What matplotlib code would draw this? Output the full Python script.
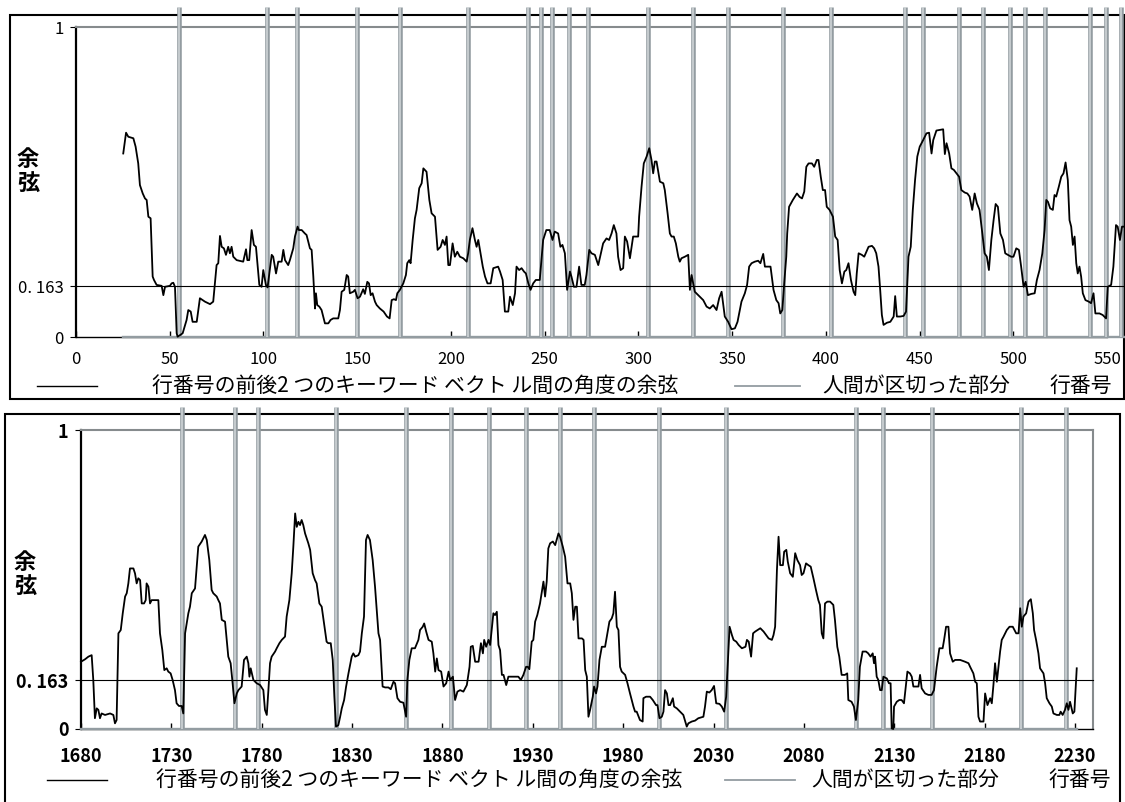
import matplotlib
matplotlib.use("Agg")
import matplotlib.pyplot as plt
from matplotlib.patches import Rectangle
from matplotlib.lines import Line2D

plt.rcParams["font.family"] = ["Noto Sans CJK JP", "DejaVu Sans"]

W, H = 1125, 802
THRESHOLD = 0.163
Y_TICKS = [0, THRESHOLD, 1]
Y_TICK_LABELS = ["0", "0. 163", "1"]
CURVE_LABEL = "行番号の前後2 つのキーワード ベクト ル間の角度の余弦"
HUMAN_LABEL = "人間が区切った部分"
X_LABEL = "行番号"
Y_LABEL = "余\n弦"

# --- upper panel: lines 0-550 ---
top_x = [
    25.2, 26.7, 27.9, 30.6, 31.8, 33.2, 34.1, 35.6, 36.8, 37.7,
    38.6, 39.8, 40.9, 41.6, 43.0, 45.7, 46.6, 47.5, 50.1, 51.0,
    51.9, 52.8, 53.7, 54.2, 55.5, 56.9, 59.0, 59.9, 61.2, 62.2,
    64.4, 66.1, 68.8, 71.5, 73.2, 75.0, 75.9, 76.8, 77.7, 78.9,
    80.0, 81.2, 82.1, 83.0, 83.9, 85.7, 89.2, 90.7, 91.4, 92.4,
    93.7, 94.9, 96.0, 97.8, 99.0, 99.9, 101.3, 102.2, 104.4, 105.2,
    106.7, 107.9, 109.7, 110.6, 111.5, 113.2, 114.1, 115.9, 116.8, 118.2,
    118.9, 120.4, 122.1, 123.0, 123.9, 124.8, 125.7, 126.6, 127.5, 128.0,
    128.7, 129.8, 131.0, 132.8, 134.6, 135.8, 137.2, 139.9, 140.8, 141.7,
    143.1, 144.4, 145.2, 146.1, 147.9, 148.8, 150.2, 151.5, 153.2, 154.1,
    155.4, 156.3, 157.2, 158.2, 159.5, 160.4, 162.1,
    164.1, 165.9, 167.3, 168.4, 169.6, 170.7, 171.4, 172.8, 174.6, 176.0,
    176.7, 177.8, 178.5, 179.6, 180.8, 181.7, 183.1, 184.4, 185.3, 187.0,
    188.5, 189.7, 191.5, 192.9, 194.5, 195.6, 196.8, 197.7, 198.6, 199.5,
    200.9, 202.1, 203.4, 204.8, 206.6, 208.4, 209.2, 210.1, 211.5, 212.8,
    213.7, 214.6, 215.8, 217.0, 218.2, 219.5, 221.2, 222.6, 225.2, 226.2,
    227.6, 228.8, 230.6, 231.5, 233.0, 234.2, 235.0, 236.4, 237.7, 239.0,
    240.0, 241.3, 242.5, 243.9, 245.3, 247.4, 248.3, 249.2, 250.9, 252.7,
    254.2, 255.4, 257.2, 258.4, 259.5, 260.8, 262.0, 263.5, 264.3, 265.6,
    267.0, 268.4, 269.6, 271.4, 272.3, 273.8, 275.0, 276.8, 278.6, 279.8,
    281.2, 283.0, 284.4, 285.7, 286.9, 288.3, 289.2, 290.5, 291.9, 292.8,
    294.0, 295.5, 297.2, 299.9, 300.4, 301.7, 302.9, 304.4, 305.8, 307.0,
    307.9, 308.8, 309.7, 311.5, 313.3, 314.1, 315.6, 316.8, 317.7, 318.9,
    320.0, 321.3, 322.1, 323.0, 324.8, 326.6, 327.5, 328.4, 330.1, 332.8,
    334.6, 336.4, 338.1, 339.9, 341.7, 343.1, 344.4, 345.2, 346.1, 347.9,
    349.7, 351.5, 352.9,
    355.0, 356.8, 358.0, 359.1, 360.4, 362.1, 363.9, 365.1, 366.6, 367.5,
    369.3, 370.5, 372.1, 373.6, 374.8, 375.7, 376.8, 377.8, 378.9, 379.4,
    380.4, 382.4, 384.6, 386.0, 387.3, 388.5, 389.6, 390.8, 392.6, 393.8,
    395.2, 396.1, 397.3, 398.4, 399.6, 400.5, 402.0, 403.8, 405.0, 406.3,
    407.4, 408.6, 409.9, 410.9, 412.1, 413.4, 414.8, 415.7, 416.5, 417.5,
    419.2, 420.5, 422.8, 424.6, 425.8, 426.9, 428.1, 429.0, 429.9, 430.8,
    432.6, 434.4, 436.2, 437.0, 437.9, 439.7, 441.5, 442.8, 444.1, 445.3,
    446.4, 447.6, 448.8, 450.1, 451.9, 453.7, 455.1, 456.4, 457.3, 459.0,
    460.8, 462.6, 463.5, 464.4, 465.8, 467.0, 468.3, 469.7, 471.1, 472.3,
    474.1, 475.5, 476.7, 478.1, 479.4, 480.6, 482.0, 483.5, 484.7, 485.9,
    487.0, 488.3, 489.5, 490.6, 491.8, 493.1, 494.5, 495.7, 497.1, 498.9,
    500.1, 501.6, 503.0, 504.2, 505.5, 506.6, 507.8, 509.6, 511.4, 512.6,
    514.0, 515.5, 516.7, 517.6, 518.5, 519.7, 521.1, 522.0, 522.9, 524.3,
    525.6, 526.8, 527.9, 529.1, 530.0, 530.9, 531.8, 532.7, 533.6, 534.4,
    535.3, 536.2, 537.1, 538.5, 540.3, 541.5, 542.8, 543.8, 546.0, 547.7,
    549.5, 550.4, 552.2, 553.4, 554.8, 555.7, 556.9, 558.0, 559.2,
]
top_cos = [
    0.592, 0.659, 0.646, 0.641, 0.614, 0.560, 0.490, 0.463, 0.447, 0.442,
    0.388, 0.383, 0.195, 0.184, 0.168, 0.165, 0.135, 0.162, 0.165, 0.173,
    0.175, 0.162, 0.012, 0.001, 0.006, 0.012, 0.055, 0.087, 0.082, 0.049,
    0.049, 0.125, 0.114, 0.106, 0.114, 0.232, 0.238, 0.326, 0.291, 0.286,
    0.265, 0.291, 0.270, 0.291, 0.259, 0.248, 0.243, 0.283, 0.248, 0.248,
    0.345, 0.297, 0.291, 0.168, 0.162, 0.216, 0.168, 0.160, 0.265, 0.259,
    0.205, 0.243, 0.243, 0.281, 0.248, 0.232, 0.248, 0.286, 0.324, 0.356,
    0.345, 0.345, 0.334, 0.329, 0.308, 0.286, 0.281, 0.195, 0.092, 0.141,
    0.103, 0.098, 0.087, 0.044, 0.044, 0.055, 0.060, 0.060, 0.087, 0.146,
    0.152, 0.200, 0.195, 0.141, 0.146, 0.152, 0.125, 0.130, 0.154, 0.139,
    0.178, 0.173, 0.135, 0.141, 0.114, 0.103, 0.092,
    0.082, 0.066, 0.060, 0.119, 0.122, 0.119, 0.141, 0.152, 0.173, 0.200,
    0.238, 0.248, 0.238, 0.313, 0.383, 0.410, 0.480, 0.496, 0.544, 0.533,
    0.442, 0.399, 0.388, 0.281, 0.291, 0.313, 0.297, 0.324, 0.232, 0.232,
    0.302, 0.259, 0.275, 0.259, 0.254, 0.243, 0.270, 0.313, 0.351, 0.313,
    0.291, 0.313, 0.270, 0.227, 0.195, 0.173, 0.173, 0.222, 0.227, 0.211,
    0.184, 0.082, 0.082, 0.130, 0.103, 0.141, 0.227, 0.216, 0.222, 0.211,
    0.205, 0.173, 0.152, 0.173, 0.184, 0.184, 0.248, 0.313, 0.345, 0.345,
    0.313, 0.340, 0.334, 0.291, 0.297, 0.270, 0.152, 0.211, 0.195, 0.162,
    0.162, 0.227, 0.168, 0.168, 0.200, 0.281, 0.270, 0.265, 0.232, 0.265,
    0.302, 0.318, 0.313, 0.334, 0.361, 0.334, 0.259, 0.216, 0.222, 0.324,
    0.308, 0.254, 0.324, 0.324, 0.388, 0.485, 0.560, 0.582, 0.609, 0.571,
    0.528, 0.566, 0.566, 0.501, 0.496, 0.474, 0.399, 0.334, 0.324, 0.324,
    0.302, 0.259, 0.243, 0.254, 0.259, 0.265, 0.152, 0.200, 0.146, 0.130,
    0.119, 0.098, 0.092, 0.103, 0.087, 0.125, 0.146, 0.109, 0.066, 0.049,
    0.025, 0.028, 0.049,
    0.114, 0.141, 0.168, 0.227, 0.238, 0.243, 0.246, 0.238, 0.268, 0.227,
    0.227, 0.227, 0.152, 0.119, 0.109, 0.076, 0.087, 0.173, 0.259, 0.334,
    0.420, 0.442, 0.463, 0.452, 0.447, 0.469, 0.549, 0.560, 0.560, 0.549,
    0.571, 0.571, 0.517, 0.474, 0.474, 0.420, 0.410, 0.388, 0.324, 0.313,
    0.216, 0.173, 0.211, 0.216, 0.238, 0.184, 0.146, 0.135, 0.205, 0.270,
    0.265, 0.259, 0.291, 0.294, 0.286, 0.270, 0.227, 0.152, 0.071, 0.039,
    0.046, 0.049, 0.066, 0.132, 0.066, 0.066, 0.068, 0.082, 0.259, 0.291,
    0.410, 0.506, 0.582, 0.614, 0.635, 0.657, 0.659, 0.592, 0.635, 0.666,
    0.668, 0.670, 0.590, 0.625, 0.592, 0.544, 0.539, 0.528, 0.517, 0.474,
    0.466, 0.463, 0.453, 0.410, 0.463, 0.431, 0.410, 0.334, 0.270, 0.259,
    0.216, 0.313, 0.377, 0.429, 0.420, 0.334, 0.313, 0.270, 0.265, 0.259,
    0.259, 0.286, 0.281, 0.227, 0.162, 0.178, 0.135, 0.139, 0.141, 0.184,
    0.216, 0.270, 0.345, 0.442, 0.436, 0.415, 0.410, 0.458, 0.453, 0.485,
    0.517, 0.528, 0.563, 0.506, 0.377, 0.356, 0.297, 0.324, 0.238, 0.205,
    0.227, 0.195, 0.141, 0.119, 0.114, 0.109, 0.141, 0.076, 0.076, 0.071,
    0.060, 0.162, 0.168, 0.227, 0.361, 0.356, 0.313, 0.356, 0.356,
]
top_bounds = [55, 102, 118, 150, 173, 209, 241, 248, 254, 263, 273, 305, 329,
              348, 377, 403, 442, 452, 471, 484, 498, 506, 517, 541, 549.5, 557.5]
top_xticks = list(range(0, 551, 50))

# --- lower panel: lines 1680-2230 ---
bot_x = [
    1680.0, 1682.2, 1684.1, 1685.9, 1686.8, 1687.7, 1688.7, 1689.6, 1690.5, 1691.4,
    1693.3, 1696.1, 1697.9, 1698.8, 1699.7, 1700.7, 1702.0, 1703.1, 1704.4, 1705.3,
    1706.2, 1707.1, 1709.0, 1709.9, 1710.8, 1711.7, 1712.7, 1713.6, 1714.9, 1715.8,
    1716.3, 1717.3, 1718.2, 1719.1, 1720.4, 1721.9, 1722.8, 1723.7, 1725.0, 1726.1,
    1727.4, 1728.3, 1729.6, 1730.7, 1732.0, 1732.9, 1734.2, 1735.7, 1736.6, 1737.6,
    1739.4, 1740.3, 1741.3, 1743.1, 1744.9, 1746.8, 1748.6, 1749.6, 1751.0, 1752.3,
    1753.2, 1755.1, 1756.0, 1756.9, 1757.9, 1759.7, 1761.5, 1762.8, 1763.9, 1764.9,
    1766.2, 1767.1, 1768.9, 1770.2, 1771.7, 1772.6, 1773.2, 1773.9, 1775.4, 1777.2,
    1779.1, 1780.9, 1781.8, 1782.8, 1783.7, 1784.6, 1785.5, 1787.4, 1788.3, 1789.8,
    1791.1, 1792.9, 1793.8, 1795.3, 1796.6, 1797.5, 1798.5, 1799.4, 1800.3, 1801.2,
    1802.1, 1803.0, 1804.0, 1805.8, 1806.8, 1808.2, 1809.5, 1810.4, 1811.9, 1813.2,
    1815.0, 1815.9, 1816.8, 1818.2, 1819.3, 1820.2, 1821.1, 1822.4, 1823.4, 1824.3,
    1825.6, 1826.7, 1828.0, 1829.8, 1830.7, 1831.7, 1833.5, 1834.4, 1835.4, 1836.6,
    1837.7, 1838.6, 1839.9, 1841.4, 1842.7,
    1844.6, 1845.5, 1846.9, 1848.3, 1850.1, 1851.4, 1852.9, 1853.8, 1855.1, 1856.6,
    1858.4, 1859.9, 1860.6, 1861.7, 1863.0, 1864.8, 1866.7, 1867.6, 1869.1, 1869.9,
    1871.0, 1872.3, 1874.1, 1875.0, 1876.0, 1876.9, 1877.8, 1879.3, 1880.6, 1882.1,
    1883.4, 1884.3, 1885.8, 1887.0, 1888.3, 1889.8, 1891.6, 1893.5, 1895.0, 1895.7,
    1896.8, 1898.1, 1900.0, 1901.3, 1902.4, 1903.1, 1904.2, 1905.5, 1906.4, 1908.2,
    1909.1, 1910.1, 1911.0, 1911.9, 1912.9, 1913.8, 1915.3, 1916.5, 1919.3, 1922.0,
    1923.4, 1924.8, 1926.3, 1927.2, 1928.1, 1929.4, 1930.3, 1931.3, 1932.5, 1934.0,
    1934.9, 1935.9, 1936.8, 1937.7, 1938.6, 1939.6, 1941.1, 1942.4, 1944.2, 1945.1,
    1946.6, 1947.9, 1949.2, 1950.7, 1951.6, 1952.5, 1953.5, 1954.4, 1955.3, 1957.2,
    1958.1, 1959.0, 1959.9, 1960.8, 1961.7, 1963.2, 1963.9, 1965.0, 1965.8, 1966.9,
    1968.2, 1970.0, 1971.3, 1972.4, 1973.7, 1974.6, 1975.5, 1976.5, 1977.4, 1978.3,
    1979.2, 1981.1, 1982.4, 1983.8, 1985.7, 1986.6, 1987.5, 1989.3, 1990.8, 1991.2,
    1992.7, 1994.9, 1996.4, 1998.2, 1999.0, 2000.1, 2001.4, 2002.3, 2003.2, 2004.2,
    2005.1, 2006.0, 2007.5, 2008.2, 2009.7, 2011.5, 2013.3, 2015.2, 2016.1, 2018.0,
    2019.8, 2021.6, 2024.4, 2025.3, 2026.3, 2027.7, 2029.0, 2030.3, 2031.5, 2033.3,
    2034.6, 2035.9, 2037.0, 2037.8, 2038.9, 2040.2, 2041.1, 2042.6, 2043.9,
    2045.7, 2047.7, 2048.5, 2049.5, 2050.8, 2051.9, 2053.1, 2055.9, 2057.7, 2060.5,
    2062.3, 2063.2, 2064.1, 2065.1, 2066.0, 2066.9, 2068.4, 2069.1, 2070.3, 2071.1,
    2072.4, 2073.9, 2075.2, 2076.4, 2077.9, 2078.8, 2079.8, 2081.2, 2082.5, 2083.8,
    2085.3, 2086.7, 2088.0, 2088.9, 2089.9, 2090.8, 2091.7, 2093.0, 2094.5, 2096.3,
    2097.2, 2098.5, 2099.6, 2100.9, 2102.7, 2104.0, 2104.6, 2106.4, 2107.7, 2108.8,
    2110.1, 2111.0, 2112.5, 2114.4, 2115.6, 2116.9, 2118.1, 2118.8, 2119.4, 2120.3,
    2121.2, 2122.2, 2123.1, 2124.0, 2125.9, 2127.1, 2128.0, 2128.6, 2129.5, 2129.9,
    2131.4, 2132.8, 2134.1, 2135.4, 2136.5, 2137.3, 2138.7, 2139.7, 2140.6, 2142.1,
    2143.4, 2144.3, 2145.2, 2147.1, 2148.9, 2150.7, 2152.0, 2153.5, 2155.0, 2156.8,
    2157.6, 2158.7, 2160.0, 2160.9, 2162.4, 2163.7, 2166.5, 2169.2, 2171.1, 2172.0,
    2173.8, 2174.8, 2175.7, 2176.6, 2177.5, 2179.4, 2180.3, 2181.6, 2183.1, 2184.0,
    2184.9, 2185.8, 2186.8, 2187.7, 2188.6, 2189.5, 2190.5, 2192.3, 2193.8, 2195.6,
    2197.5, 2198.8, 2199.7, 2200.6, 2201.5, 2203.0, 2204.3, 2205.6, 2206.7, 2207.4,
    2208.5, 2209.8, 2210.7, 2212.6, 2213.5, 2214.4, 2215.9, 2217.2, 2218.1, 2220.0,
    2221.4, 2222.1, 2223.2, 2224.5, 2225.5, 2226.4, 2227.3, 2228.8, 2229.7, 2231.0,
]
bot_cos = [
    0.225, 0.233, 0.242, 0.247, 0.164, 0.036, 0.069, 0.064, 0.036, 0.052,
    0.047, 0.052, 0.047, 0.019, 0.030, 0.320, 0.331, 0.387, 0.443, 0.454,
    0.487, 0.537, 0.537, 0.520, 0.487, 0.504, 0.498, 0.420, 0.420, 0.431,
    0.487, 0.476, 0.420, 0.431, 0.431, 0.431, 0.431, 0.320, 0.264, 0.197,
    0.203, 0.192, 0.186, 0.164, 0.130, 0.086, 0.077, 0.077, 0.052, 0.320,
    0.387, 0.409, 0.454, 0.470, 0.610, 0.627, 0.649, 0.632, 0.565, 0.465,
    0.454, 0.443, 0.431, 0.420, 0.365, 0.359, 0.242, 0.220, 0.153, 0.086,
    0.119, 0.130, 0.142, 0.231, 0.242, 0.220, 0.175, 0.203, 0.164, 0.153,
    0.147, 0.130, 0.064, 0.047, 0.130, 0.220, 0.242, 0.259, 0.270, 0.287,
    0.298, 0.309, 0.376, 0.431, 0.521, 0.610, 0.721, 0.676, 0.693, 0.682,
    0.699, 0.682, 0.654, 0.621, 0.599, 0.521, 0.498, 0.487, 0.420, 0.409,
    0.331, 0.292, 0.287, 0.287, 0.231, 0.108, 0.008, 0.013, 0.041, 0.069,
    0.097, 0.142, 0.186, 0.242, 0.253, 0.242, 0.247, 0.259, 0.320, 0.376,
    0.632, 0.649, 0.632, 0.565, 0.476,
    0.320, 0.298, 0.142, 0.139, 0.139, 0.133, 0.158, 0.153, 0.103, 0.091,
    0.088, 0.041, 0.164, 0.231, 0.270, 0.270, 0.298, 0.331, 0.342, 0.353,
    0.326, 0.298, 0.292, 0.253, 0.192, 0.236, 0.197, 0.192, 0.142, 0.153,
    0.192, 0.164, 0.175, 0.097, 0.125, 0.130, 0.125, 0.147, 0.208, 0.275,
    0.278, 0.225, 0.225, 0.287, 0.253, 0.298, 0.275, 0.298, 0.281, 0.387,
    0.381, 0.392, 0.281, 0.264, 0.181, 0.181, 0.147, 0.175, 0.175, 0.175,
    0.164, 0.181, 0.208, 0.208, 0.200, 0.292, 0.298, 0.359, 0.381, 0.420,
    0.454, 0.493, 0.443, 0.493, 0.604, 0.621, 0.627, 0.615, 0.654, 0.643,
    0.610, 0.576, 0.487, 0.487, 0.454, 0.365, 0.409, 0.409, 0.303, 0.303,
    0.298, 0.197, 0.175, 0.041, 0.064, 0.108, 0.142, 0.119, 0.142, 0.231,
    0.275, 0.275, 0.320, 0.359, 0.370, 0.387, 0.459, 0.342, 0.331, 0.208,
    0.192, 0.181, 0.153, 0.119, 0.075, 0.058, 0.058, 0.030, 0.025, 0.103,
    0.108, 0.108, 0.097, 0.080, 0.080, 0.036, 0.041, 0.058, 0.130, 0.119,
    0.080, 0.080, 0.103, 0.075, 0.069, 0.058, 0.047, 0.008, 0.019, 0.025,
    0.028, 0.036, 0.041, 0.075, 0.125, 0.122, 0.130, 0.144, 0.086, 0.084,
    0.075, 0.058, 0.108, 0.208, 0.342, 0.314, 0.298, 0.292, 0.281,
    0.270, 0.275, 0.298, 0.292, 0.242, 0.320, 0.326, 0.337, 0.326, 0.303,
    0.298, 0.314, 0.342, 0.532, 0.643, 0.548, 0.548, 0.593, 0.599, 0.560,
    0.521, 0.509, 0.588, 0.565, 0.548, 0.515, 0.521, 0.554, 0.548, 0.543,
    0.504, 0.465, 0.431, 0.415, 0.320, 0.303, 0.420, 0.426, 0.426, 0.415,
    0.365, 0.275, 0.242, 0.181, 0.181, 0.186, 0.097, 0.091, 0.075, 0.030,
    0.097, 0.208, 0.259, 0.259, 0.253, 0.242, 0.253, 0.220, 0.242, 0.175,
    0.164, 0.130, 0.130, 0.175, 0.169, 0.153, 0.153, 0.002, 0.000, 0.075,
    0.091, 0.097, 0.097, 0.086, 0.147, 0.192, 0.186, 0.175, 0.142, 0.142,
    0.142, 0.181, 0.136, 0.119, 0.114, 0.114, 0.130, 0.208, 0.270, 0.270,
    0.298, 0.342, 0.342, 0.253, 0.225, 0.231, 0.231, 0.225, 0.220, 0.208,
    0.186, 0.158, 0.153, 0.041, 0.025, 0.025, 0.119, 0.080, 0.103, 0.086,
    0.147, 0.220, 0.158, 0.208, 0.259, 0.298, 0.309, 0.331, 0.342, 0.342,
    0.320, 0.320, 0.404, 0.342, 0.376, 0.387, 0.426, 0.434, 0.387, 0.331,
    0.298, 0.253, 0.203, 0.186, 0.153, 0.103, 0.086, 0.075, 0.052, 0.047,
    0.047, 0.058, 0.047, 0.064, 0.086, 0.064, 0.091, 0.052, 0.058, 0.203,
]
bot_bounds = [1736, 1765, 1778, 1821, 1860, 1885, 1906, 1926, 1945, 1964,
              2000, 2037, 2109, 2124, 2151, 2200, 2225]
bot_xticks = list(range(1680, 2231, 50))

GRAY = "#939ca1"
GRAY_CORE = "#d4d9db"
BORDER_GRAY = "#868b8d"


def fig_box(x0, y0, x1, y1):
    return [x0 / W, 1 - y1 / H, (x1 - x0) / W, (y1 - y0) / H]


def draw_panel(ax, xs, ys, bounds, xlim, xticks, pulse_top, thr_xmax, tick_size, tick_weight, tick_pad):
    ax.set_xlim(*xlim)
    ax.set_ylim(0, 1)
    # human segmentation: baseline at 0 plus a pulse per boundary
    ax.plot([xs[0], xs[-1]], [0, 0], color=GRAY, lw=1.7, clip_on=False, zorder=3)
    trans = ax.get_xaxis_transform()
    ax.vlines(bounds, 0, pulse_top, transform=trans, colors=GRAY, lw=3.3, clip_on=False, zorder=3)
    ax.vlines(bounds, 0, pulse_top, transform=trans, colors=GRAY_CORE, lw=1.1, clip_on=False, zorder=3)
    ax.axhline(THRESHOLD, xmin=0, xmax=thr_xmax, color="black", lw=0.8, clip_on=False, zorder=4)
    ax.plot(xs, ys, color="black", lw=1.3, clip_on=False, zorder=5)

    for side in ("top", "right"):
        ax.spines[side].set_color(BORDER_GRAY)
        ax.spines[side].set_linewidth(1.5)
    ax.spines["left"].set_linewidth(1.6)
    ax.spines["bottom"].set_linewidth(1.0)

    ax.set_xticks(xticks)
    ax.set_xticklabels([str(t) for t in xticks], fontsize=tick_size, fontweight=tick_weight)
    ax.tick_params(axis="x", direction="in", length=4, width=1, pad=tick_pad)
    ax.set_yticks(Y_TICKS)
    ax.set_yticklabels(Y_TICK_LABELS, fontsize=tick_size, fontweight=tick_weight)
    ax.tick_params(axis="y", direction="out", length=4, width=0.8, pad=5)


fig = plt.figure(figsize=(W / 100, H / 100), dpi=100)

ax_top = fig.add_axes(fig_box(76, 27, 1107, 337))
draw_panel(ax_top, top_x, top_cos, top_bounds, (0, 550), top_xticks,
           pulse_top=1.065, thr_xmax=(1124 - 76) / (1107 - 76),
           tick_size=12, tick_weight="normal", tick_pad=10)

ax_bot = fig.add_axes(fig_box(81, 430, 1093, 729))
draw_panel(ax_bot, bot_x, bot_cos, bot_bounds, (1680, 2240), bot_xticks,
           pulse_top=1.077, thr_xmax=1.0,
           tick_size=13, tick_weight="bold", tick_pad=13)

# outer frames around each chart
fig.add_artist(Rectangle((10 / W, 1 - 399 / H), 1114 / W, 384 / H, transform=fig.transFigure,
                         fill=False, ec="black", lw=1.5, zorder=0))
fig.add_artist(Rectangle((5 / W, 1 - 820 / H), 1115 / W, 406 / H, transform=fig.transFigure,
                         fill=False, ec="black", lw=1.5, zorder=0))

# y-axis titles
fig.text(28 / W, 1 - 172 / H, Y_LABEL, ha="center", va="center", fontsize=16,
         fontweight="bold", linespacing=1.1)
fig.text(25 / W, 1 - 575 / H, Y_LABEL, ha="center", va="center", fontsize=16,
         fontweight="bold", linespacing=1.1)


def legend_row(y, black_span, text1_span, gray_span, text2_span, text3_span):
    yf = 1 - y / H
    fig.add_artist(Line2D([black_span[0] / W, black_span[1] / W], [yf, yf], color="black", lw=1.0))
    fig.add_artist(Line2D([gray_span[0] / W, gray_span[1] / W], [yf, yf], color=GRAY, lw=1.3))
    for span, txt in ((text1_span, CURVE_LABEL), (text2_span, HUMAN_LABEL), (text3_span, X_LABEL)):
        fig.text(sum(span) / 2 / W, yf, txt, ha="center", va="center", fontsize=15)


legend_row(386, (37, 97), (105, 725), (735, 800), (808, 1025), (1040, 1122))
legend_row(780, (47, 107), (117, 722), (725, 795), (800, 1010), (1042, 1117))

fig.savefig("out.png", dpi=100)
